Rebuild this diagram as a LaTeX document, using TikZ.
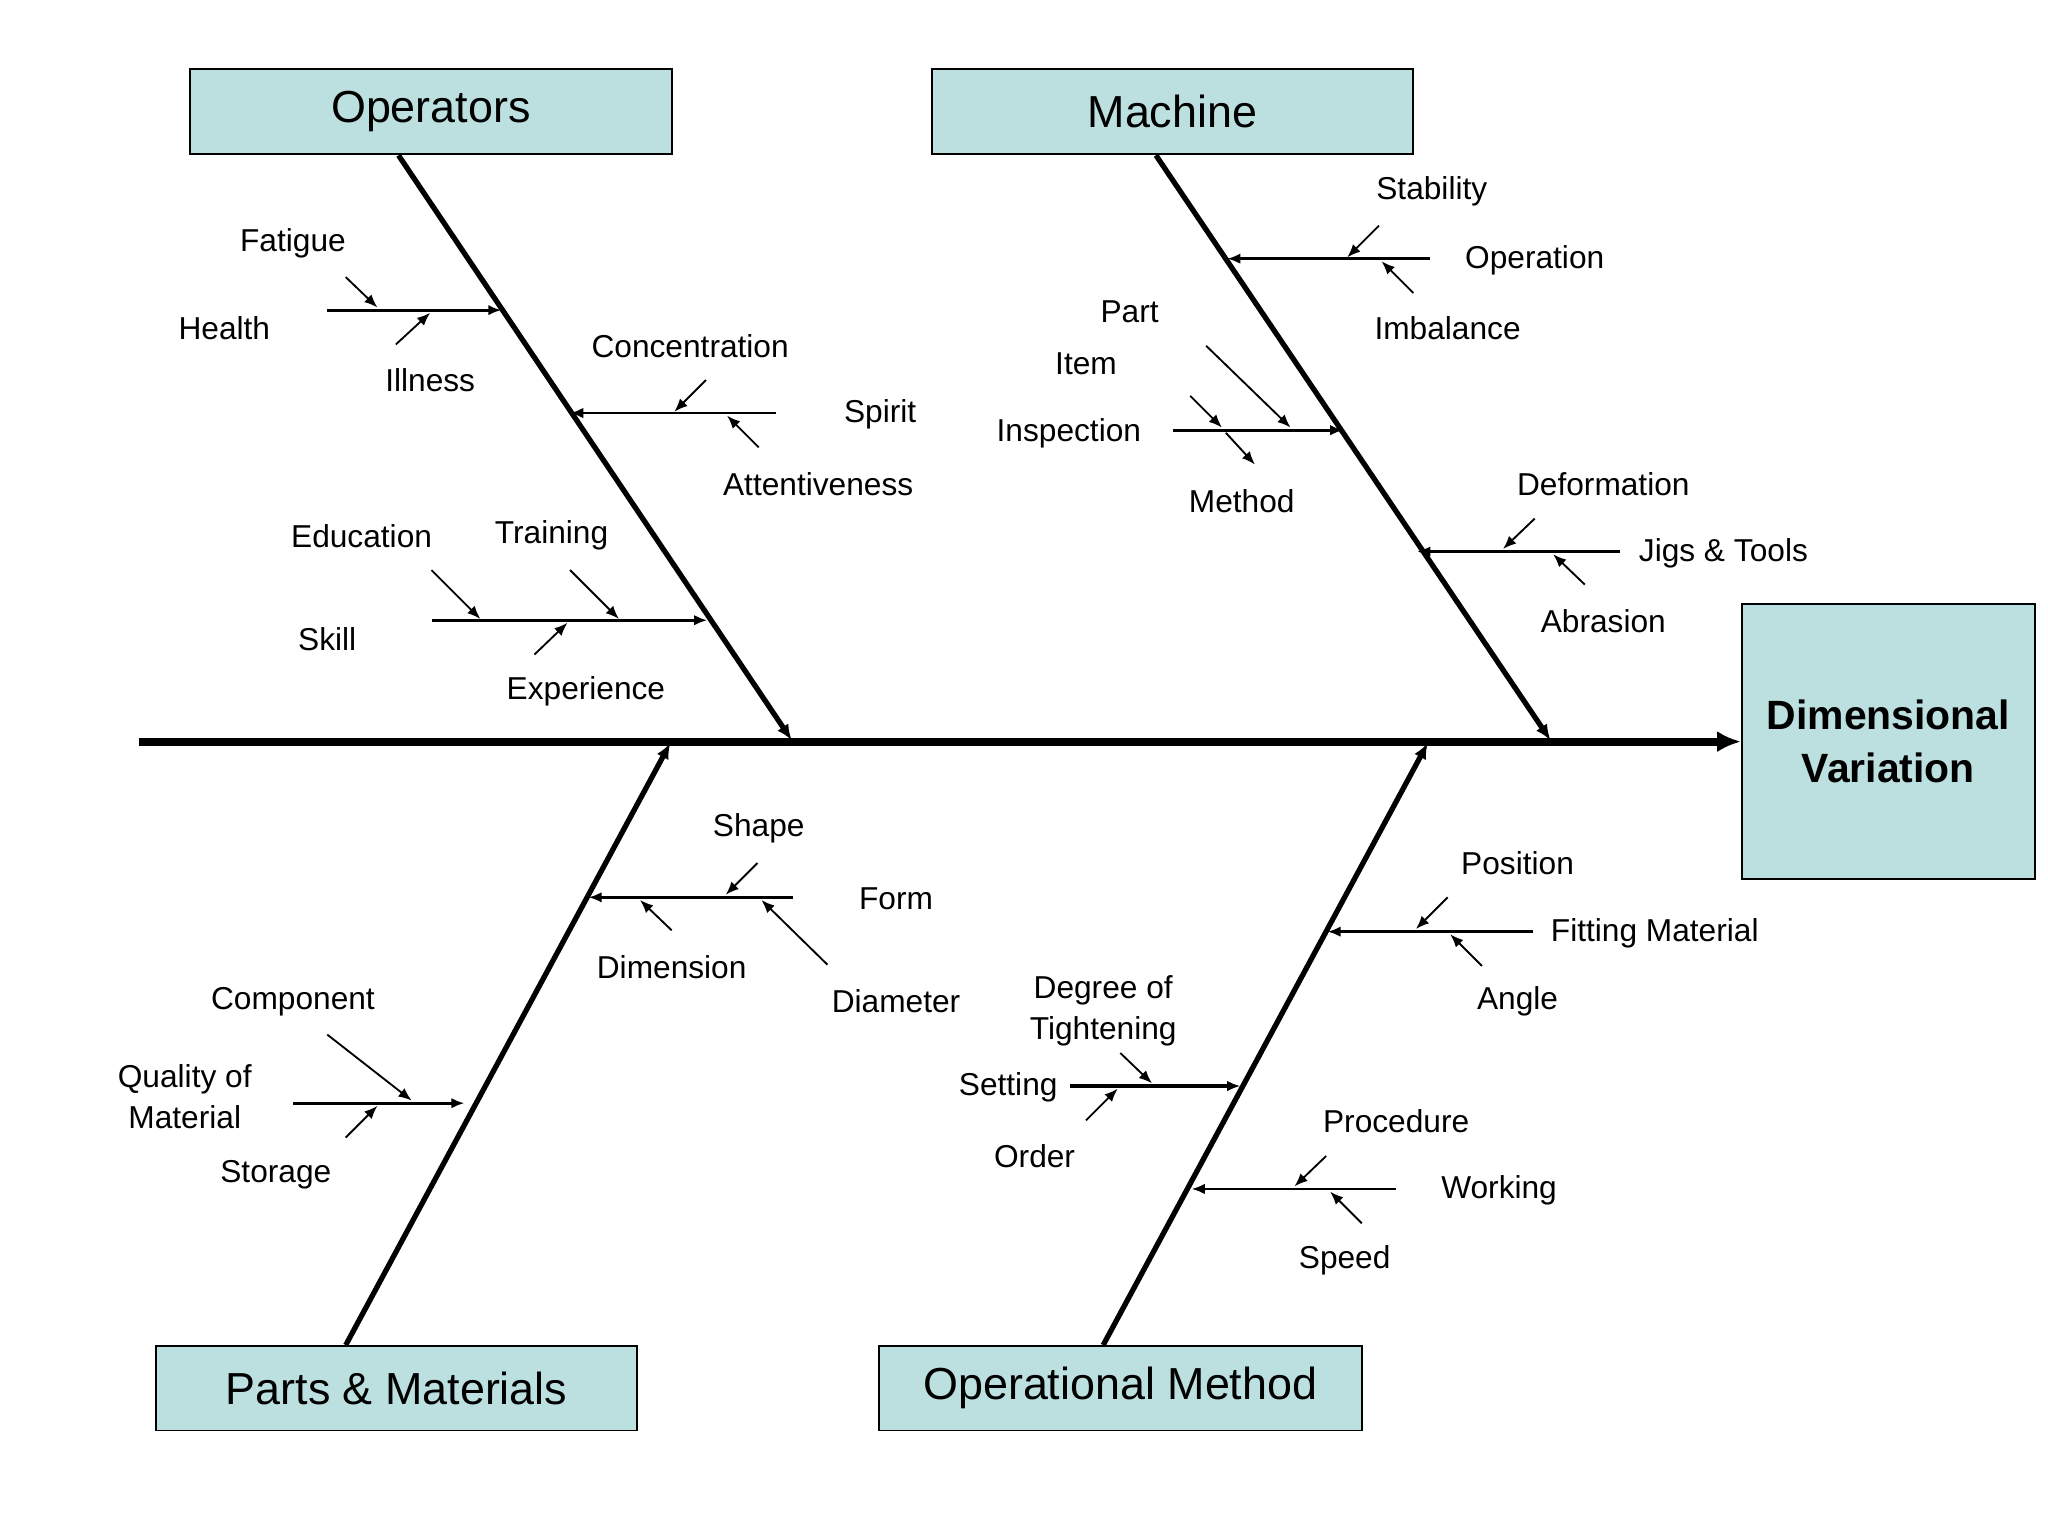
\documentclass[tikz,border=0pt]{standalone}
\usepackage{fontspec}
\setmainfont{Liberation Sans}
\usetikzlibrary{arrows.meta}
\definecolor{boxfill}{RGB}{188,224,224}

\begin{document}
\begin{tikzpicture}[x=0.5pt,y=-0.5pt]
    \tikzset{
      cat/.style={draw=black,fill=boxfill,line width=0.7pt,font=\fontsize{17}{20}\selectfont},
      lbl/.style={font=\fontsize{12}{14}\selectfont,align=center},
      spine/.style={line width=3pt,-{Latex[length=9pt,width=8pt]}},
      bone/.style={line width=2pt,-{Latex[length=6pt,width=5pt]}},
      sub/.style={line width=1.2pt,-{Latex[length=5pt,width=4pt]}},
      twig/.style={line width=0.7pt,-{Latex[length=5pt,width=4pt]}}
    }
    \useasboundingbox (0,0) rectangle (1552,1164);

    % categories and effect
    \node[cat,minimum width=182.5pt,minimum height=32.5pt] (ops) at (326.5,84.5) {Operators};
    \node[cat,minimum width=182.5pt,minimum height=32.5pt] (mach) at (888.5,84.5) {Machine};
    \node[cat,minimum width=182.5pt,minimum height=32pt] (parts) at (300.5,1052) {Parts \& Materials};
    \node[cat,minimum width=183pt,minimum height=32pt] (opm) at (849,1052) {Operational Method};
    \node[cat,minimum width=111pt,minimum height=104pt,align=center,
          font=\fontsize{15.5}{20}\selectfont\bfseries] (eff) at (1431,562) {Dimensional\\Variation};

    % spine and bones
    \coordinate (s0) at (105,562);
    \draw[spine] (s0) -- (eff.west);
    \coordinate (b1) at (600,561); \coordinate (b2) at (1175,561);
    \coordinate (b3) at (508,563); \coordinate (b4) at (1082,563);
    \draw[bone] (ops.south-|302,0) -- (b1);
    \draw[bone] (mach.south-|876,0) -- (b2);
    \draw[bone] (parts.north-|262,0) -- (b3);
    \draw[bone] (opm.north-|836,0) -- (b4);

    % Operators
    \node[lbl] (fat) at (222,184) {Fatigue};
    \node[lbl] (hea) at (170,249) {Health};
    \node[lbl] (ill) at (326,288) {Illness};
    \coordinate (h1) at (248,235); \coordinate (h2) at (380,235);
    \draw[sub] (h1) -- (h2);
    \coordinate (f1) at (262,210); \coordinate (f2) at (286,233);
    \draw[twig] (f1) -- (f2);
    \coordinate (i1) at (300,261); \coordinate (i2) at (326,237);
    \draw[twig] (i1) -- (i2);

    \node[lbl] (con) at (523,262) {Concentration};
    \node[lbl] (spi) at (667,314) {Spirit};
    \node[lbl] (att) at (620,367) {Attentiveness};
    \coordinate (sp1) at (588,313); \coordinate (sp2) at (432,313);
    \draw[sub,line width=0.9pt] (sp1) -- (sp2);
    \coordinate (c1) at (535,288); \coordinate (c2) at (511,312);
    \draw[twig] (c1) -- (c2);
    \coordinate (a1) at (575,339); \coordinate (a2) at (551,315);
    \draw[twig] (a1) -- (a2);

    \node[lbl] (edu) at (274,406) {Education};
    \node[lbl] (tra) at (418,406) {Training};
    \node[lbl] (ski) at (248,484) {Skill};
    \node[lbl] (exp) at (444,524) {Experience};
    \coordinate (k1) at (327,470); \coordinate (k2) at (536,470);
    \draw[sub] (k1) -- (k2);
    \coordinate (e1) at (327,432); \coordinate (e2) at (364,469);
    \draw[twig] (e1) -- (e2);
    \coordinate (t1) at (432,432); \coordinate (t2) at (469,469);
    \draw[twig] (t1) -- (t2);
    \coordinate (x1) at (405,496); \coordinate (x2) at (430,472);
    \draw[twig] (x1) -- (x2);

    % Machine
    \node[lbl] (sta) at (1085,145) {Stability};
    \node[lbl] (ope) at (1163,197) {Operation};
    \node[lbl] (imb) at (1097,249) {Imbalance};
    \coordinate (o1) at (1084,196); \coordinate (o2) at (930,196);
    \draw[sub,line width=0.9pt] (o1) -- (o2);
    \coordinate (st1) at (1045,171); \coordinate (st2) at (1021,195);
    \draw[twig] (st1) -- (st2);
    \coordinate (im1) at (1071,222); \coordinate (im2) at (1047,198);
    \draw[twig] (im1) -- (im2);

    \node[lbl] (par) at (856,236) {Part};
    \node[lbl] (ite) at (823,276) {Item};
    \node[lbl] (ins) at (810,328) {Inspection};
    \node[lbl] (met) at (941,380) {Method};
    \coordinate (n1) at (889,326); \coordinate (n2) at (1018,326);
    \draw[sub] (n1) -- (n2);
    \coordinate (it1) at (902,300); \coordinate (it2) at (926,324);
    \draw[twig] (it1) -- (it2);
    \coordinate (pa1) at (914,262); \coordinate (pa2) at (978,324);
    \draw[twig] (pa1) -- (pa2);
    \coordinate (m1) at (951,352); \coordinate (m2) at (929,328);
    \draw[twig] (m2) -- (m1);

    \node[lbl] (def) at (1215,367) {Deformation};
    \node[lbl] (jig) at (1306,419) {Jigs \& Tools};
    \node[lbl] (abr) at (1215,471) {Abrasion};
    \coordinate (j1) at (1228,418); \coordinate (j2) at (1074,418);
    \draw[sub,line width=0.9pt] (j1) -- (j2);
    \coordinate (d1) at (1163,393); \coordinate (d2) at (1139,416);
    \draw[twig] (d1) -- (d2);
    \coordinate (ab1) at (1201,443); \coordinate (ab2) at (1177,420);
    \draw[twig] (ab1) -- (ab2);

    % Parts & Materials
    \node[lbl] (sha) at (575,628) {Shape};
    \node[lbl] (for) at (679,681) {Form};
    \node[lbl] (dim) at (509,733) {Dimension};
    \node[lbl] (dia) at (679,759) {Diameter};
    \coordinate (fo1) at (601,680); \coordinate (fo2) at (446,680);
    \draw[sub,line width=0.9pt] (fo1) -- (fo2);
    \coordinate (sh1) at (574,654); \coordinate (sh2) at (550,678);
    \draw[twig] (sh1) -- (sh2);
    \coordinate (di1) at (509,705); \coordinate (di2) at (485,682);
    \draw[twig] (di1) -- (di2);
    \coordinate (dm1) at (627,731); \coordinate (dm2) at (577,682);
    \draw[twig] (dm1) -- (dm2);

    \node[lbl] (com) at (222,759) {Component};
    \node[lbl,font=\fontsize{12}{15.5}\selectfont] (qua) at (140,831) {Quality of\\Material};
    \node[lbl] (sto) at (209,890) {Storage};
    \coordinate (q1) at (222,836); \coordinate (q2) at (352,836);
    \draw[sub] (q1) -- (q2);
    \coordinate (co1) at (248,784); \coordinate (co2) at (312,834);
    \draw[twig] (co1) -- (co2);
    \coordinate (so1) at (262,862); \coordinate (so2) at (286,838);
    \draw[twig] (so1) -- (so2);

    % Operational Method
    \node[lbl] (pos) at (1150,654) {Position};
    \node[lbl] (fit) at (1254,707) {Fitting Material};
    \node[lbl] (ang) at (1150,759) {Angle};
    \coordinate (fm1) at (1162,706); \coordinate (fm2) at (1006,706);
    \draw[sub,line width=0.9pt] (fm1) -- (fm2);
    \coordinate (po1) at (1097,680); \coordinate (po2) at (1073,704);
    \draw[twig] (po1) -- (po2);
    \coordinate (an1) at (1123,732); \coordinate (an2) at (1099,708);
    \draw[twig] (an1) -- (an2);

    \node[lbl,font=\fontsize{12}{15.5}\selectfont] (deg) at (836,766) {Degree of\\Tightening};
    \node[lbl] (set) at (764,824) {Setting};
    \node[lbl] (ord) at (784,876) {Order};
    \coordinate (se1) at (811,823); \coordinate (se2) at (940,823);
    \draw[sub] (se1) -- (se2);
    \coordinate (dg1) at (849,798); \coordinate (dg2) at (873,821);
    \draw[twig] (dg1) -- (dg2);
    \coordinate (or1) at (823,849); \coordinate (or2) at (847,825);
    \draw[twig] (or1) -- (or2);

    \node[lbl] (pro) at (1058,850) {Procedure};
    \node[lbl] (wor) at (1136,902) {Working};
    \node[lbl] (spe) at (1019,955) {Speed};
    \coordinate (w1) at (1058,901); \coordinate (w2) at (903,901);
    \draw[sub,line width=0.9pt] (w1) -- (w2);
    \coordinate (pr1) at (1005,876); \coordinate (pr2) at (981,899);
    \draw[twig] (pr1) -- (pr2);
    \coordinate (sp3) at (1032,927); \coordinate (sp4) at (1008,903);
    \draw[twig] (sp3) -- (sp4);
\end{tikzpicture}
\end{document}
